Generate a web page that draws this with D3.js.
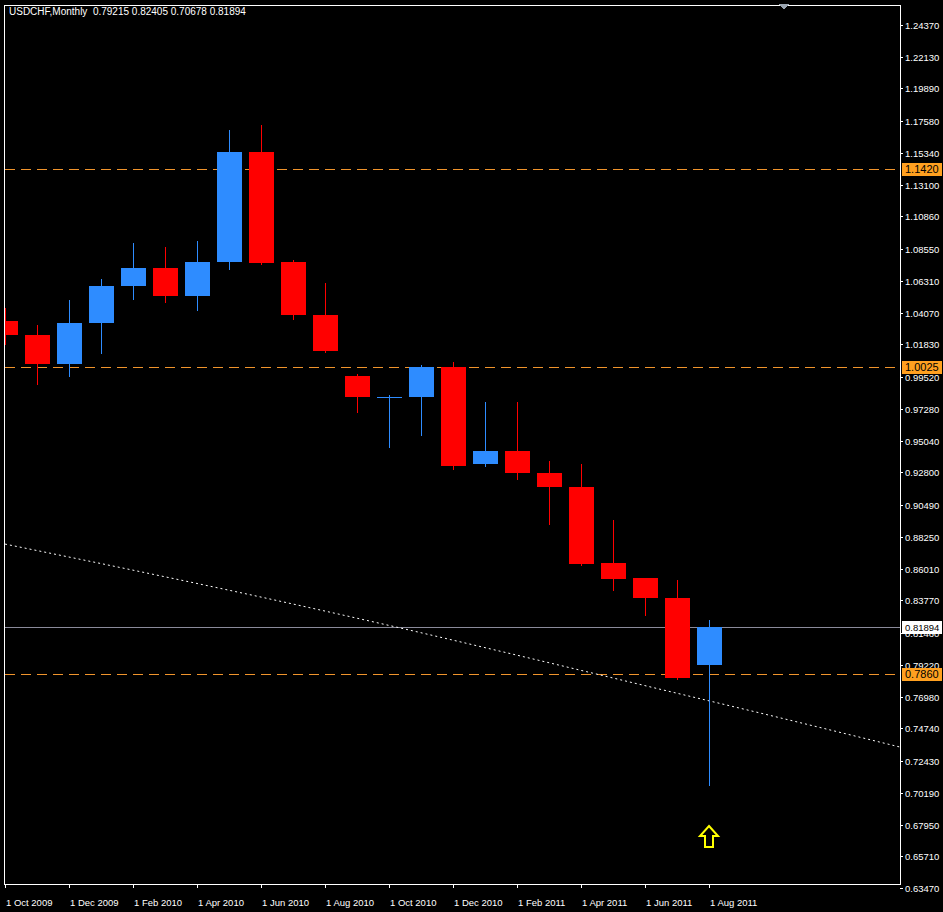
<!DOCTYPE html>
<html><head><meta charset="utf-8">
<script src="https://cdn.jsdelivr.net/npm/d3@7"></script>
<style>body{margin:0;background:#000}svg{display:block}text{font-family:"Liberation Sans",Arial,sans-serif}</style>
</head><body><svg id="c" width="943" height="912" shape-rendering="crispEdges"></svg>
<script>
// monthly candles, Oct 2009 .. Aug 2011
var months = ["2009-10","2009-11","2009-12","2010-01","2010-02","2010-03","2010-04","2010-05","2010-06","2010-07","2010-08","2010-09","2010-10","2010-11","2010-12","2011-01","2011-02","2011-03","2011-04","2011-05","2011-06","2011-07","2011-08"];
var opens  = [1.0348,1.0249,1.0045,1.0334,1.0595,1.0722,1.0525,1.0765,1.1541,1.0765,1.0390,0.9960,0.9812,0.9812,1.0023,0.9339,0.9431,0.9275,0.9177,0.8640,0.8535,0.8393,0.79215];
var highs  = [1.0440,1.0320,1.0496,1.0644,1.0899,1.0870,1.0913,1.1696,1.1731,1.0779,1.0616,0.9974,0.9826,1.0038,1.0059,0.9777,0.9777,0.9360,0.9339,0.8944,0.8535,0.8520,0.82405];
var lows   = [1.0179,0.9896,0.9953,1.0115,1.0496,1.0475,1.0419,1.0708,1.0743,1.0355,1.0122,0.9699,0.9452,0.9537,0.9297,0.9318,0.9226,0.8909,0.8619,0.8443,0.8266,0.7815,0.70678];
var closes = [1.0249,1.0045,1.0334,1.0595,1.0722,1.0525,1.0765,1.1541,1.0757,1.0390,1.0136,0.9812,0.9812,1.0023,0.9325,0.9431,0.9275,0.9177,0.8633,0.8528,0.8393,0.7829,0.81894];
// dotted moving average, index -> value
var maIdx = [0,4,8,12,16,20,24,28];
var maVal = [0.8774,0.8590,0.8400,0.8200,0.7990,0.7775,0.7560,0.7340];
var levels = [1.1420,1.0025,0.7860];
var levelLabels = ["1.1420","1.0025","0.7860"];
var lastPrice = 0.81894;
var priceTicks = [1.24370,1.22130,1.19890,1.17580,1.15340,1.13100,1.10860,1.08550,1.06310,1.04070,1.01830,0.99520,0.97280,0.95040,0.92800,0.90490,0.88250,0.86010,0.83770,0.81460,0.79220,0.76980,0.74740,0.72430,0.70190,0.67950,0.65710,0.63470];
var dateTicks = [0,2,4,6,8,10,12,14,16,18,20,22];
var dateLabels = ["1 Oct 2009","1 Dec 2009","1 Feb 2010","1 Apr 2010","1 Jun 2010","1 Aug 2010","1 Oct 2010","1 Dec 2010","1 Feb 2011","1 Apr 2011","1 Jun 2011","1 Aug 2011"];

var svg = d3.select("#c");
var L = 5, R = 900, T = 6, B = 884;
var x = d3.scaleLinear().domain([0, 28]).range([5, 901]);
var y = d3.scaleLinear().domain([0.6347, 1.2437]).range([888, 25]);

svg.append("rect").attr("width", 943).attr("height", 912).attr("fill", "#000");
svg.append("clipPath").attr("id", "clip").append("rect")
  .attr("x", L).attr("y", T).attr("width", R - L).attr("height", B - T);
var g = svg.append("g").attr("clip-path", "url(#clip)");

// level lines
g.selectAll(".lvl").data(levels).enter().append("line")
  .attr("x1", L).attr("x2", R).attr("y1", d => Math.round(y(d)) + 0.5).attr("y2", d => Math.round(y(d)) + 0.5)
  .attr("stroke", "#f0942c").attr("stroke-dasharray", "10,6");
g.append("line").attr("x1", L).attr("x2", R)
  .attr("y1", Math.round(y(lastPrice)) + 0.5).attr("y2", Math.round(y(lastPrice)) + 0.5)
  .attr("stroke", "#8a8a9a");

// moving average
g.append("path").datum(maIdx.map((d, i) => [d, maVal[i]]))
  .attr("d", d3.line().curve(d3.curveMonotoneX).x(d => x(d[0])).y(d => y(d[1])))
  .attr("fill", "none").attr("stroke", "#fff").attr("stroke-dasharray", "2,3").attr("shape-rendering", "auto");

// candles
var data = months.map((m, i) => ({ i, o: opens[i], h: highs[i], l: lows[i], c: closes[i] }));
var col = d => d.c >= d.o ? "#2e8cff" : "#ff0000";
g.selectAll(".wick").data(data).enter().append("line")
  .attr("x1", d => Math.round(x(d.i)) + 0.5).attr("x2", d => Math.round(x(d.i)) + 0.5)
  .attr("y1", d => y(d.h)).attr("y2", d => y(d.l)).attr("stroke", col).attr("stroke-width", 1.2);
g.selectAll(".body").data(data).enter().append("rect")
  .attr("x", d => Math.round(x(d.i)) - 12).attr("width", 25)
  .attr("y", d => y(Math.max(d.o, d.c)))
  .attr("height", d => Math.max(1, Math.abs(y(d.o) - y(d.c))))
  .attr("fill", col);

// yellow arrow
var ax = Math.round(x(22)), ay = 826;
svg.append("path").attr("shape-rendering", "auto")
  .attr("d", `M${ax},${ay} L${ax + 9},${ay + 10} L${ax + 4},${ay + 10} L${ax + 4},${ay + 21} L${ax - 4},${ay + 21} L${ax - 4},${ay + 10} L${ax - 9},${ay + 10} Z`)
  .attr("fill", "none").attr("stroke", "#ffff00").attr("stroke-width", 2);

// frame
svg.append("rect").attr("x", L - 0.5).attr("y", T - 0.5).attr("width", R - L + 1).attr("height", B - T + 1)
  .attr("fill", "none").attr("stroke", "#fff");
svg.append("path").attr("d", "M778,4 L784,9 L790,4").attr("fill", "#9aa4b0");

// price axis
var pa = svg.append("g").attr("font-size", 9.5).attr("fill", "#fff");
pa.selectAll("line").data(priceTicks).enter().append("line")
  .attr("x1", R).attr("x2", R + 3).attr("y1", d => Math.round(y(d)) + 0.5).attr("y2", d => Math.round(y(d)) + 0.5).attr("stroke", "#fff");
pa.selectAll("text").data(priceTicks).enter().append("text")
  .attr("x", 905).attr("y", d => y(d) + 4).text(d => d.toFixed(5));

// level labels
levels.forEach((lv, i) => {
  var yy = Math.round(y(lv));
  svg.append("rect").attr("x", 902).attr("y", yy - 6).attr("width", 40).attr("height", 13).attr("fill", "#ffa020");
  svg.append("text").attr("x", 905).attr("y", yy + 4).attr("font-size", 11).attr("fill", "#000").text(levelLabels[i]);
});
var yl = Math.round(y(lastPrice));
svg.append("rect").attr("x", 902).attr("y", yl - 6).attr("width", 40).attr("height", 13).attr("fill", "#fff");
svg.append("text").attr("x", 905).attr("y", yl + 4).attr("font-size", 9.5).attr("fill", "#000").text(lastPrice.toFixed(5));

// date axis
var da = svg.append("g").attr("font-size", 9.5).attr("fill", "#fff");
da.selectAll("line").data(dateTicks).enter().append("line")
  .attr("x1", d => Math.round(x(d)) + 0.5).attr("x2", d => Math.round(x(d)) + 0.5)
  .attr("y1", B).attr("y2", B + 4).attr("stroke", "#fff");
da.selectAll("text").data(dateTicks).enter().append("text")
  .attr("x", d => x(d) + 1).attr("y", 906).text((d, i) => dateLabels[i]);

// title
svg.append("text").attr("x", 9).attr("y", 15).attr("font-size", 10).attr("fill", "#fff").attr("xml:space", "preserve")
  .text("USDCHF,Monthly  0.79215 0.82405 0.70678 0.81894");
</script></body></html>
